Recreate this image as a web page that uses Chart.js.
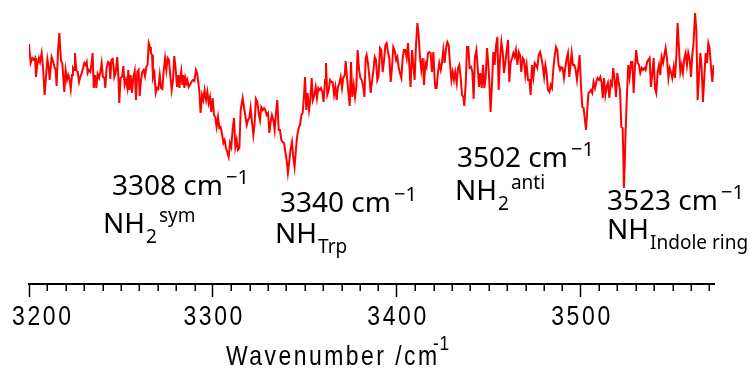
<!DOCTYPE html>
<html><head><meta charset="utf-8">
<script src="https://cdn.jsdelivr.net/npm/chart.js@4/dist/chart.umd.min.js"></script>
<style>html,body{margin:0;padding:0;background:#fff}#wrap{width:751px;height:369px}</style>
</head><body><div id="wrap"><canvas id="c" width="751" height="369"></canvas></div>
<script>
// Wavenumber (cm^-1)
const wavenumber = [
3200.0,3200.9,3201.8,3202.7,3203.3,3203.8,3204.5,3205.4,3206.0,3206.9,3207.6,3208.5,3209.4,3210.0,3210.7,3211.2,3212.3,3213.2,3214.0,3214.5,
3215.0,3215.8,3216.5,3217.4,3218.1,3219.2,3219.9,3220.7,3221.4,3222.1,3222.7,3223.4,3223.9,3224.5,3225.0,3225.7,3226.5,3227.2,3227.9,3228.7,
3229.4,3230.1,3230.8,3231.4,3231.9,3232.6,3233.4,3234.1,3234.6,3235.2,3235.9,3236.6,3237.3,3238.1,3238.8,3239.5,3240.2,3241.0,3241.5,3242.2,
3243.0,3243.7,3244.2,3244.8,3245.5,3246.0,3246.4,3247.1,3248.0,3248.6,3249.1,3249.8,3250.6,3251.3,3252.0,3252.7,3253.5,3254.0,3254.6,3255.3,
3256.0,3256.7,3257.5,3258.2,3258.9,3259.6,3260.2,3260.9,3261.6,3262.4,3263.1,3263.8,3264.5,3265.1,3265.8,3266.3,3266.9,3267.4,3268.2,3268.9,
3269.6,3270.3,3271.1,3271.8,3272.5,3273.2,3274.0,
3274.7,3275.4,3276.1,3276.9,3277.6,3278.3,3279.0,3279.8,3280.5,3281.2,3281.8,3282.3,3282.8,3283.4,3283.9,3284.5,3285.0,3285.6,3286.1,3286.8,
3287.5,3288.3,3289.0,3289.9,3290.8,3291.4,3292.1,3292.6,3293.3,3294.1,3294.8,3295.5,3296.3,3297.0,3297.7,3298.4,3299.1,3299.9,3300.6,3301.3,
3302.0,3302.8,3303.5,3304.2,3304.9,3305.7,3306.4,3307.1,3307.8,3308.6,3309.3,3310.0,3310.8,3311.5,3312.2,3312.9,3313.6,3314.4,3315.1,3316.2,
3316.9,3317.6,3318.4,3319.1,3319.8,3320.5,3321.3,3322.0,3322.7,3323.4,3324.2,3324.9,3325.6,3326.3,3327.1,3327.8,3328.5,3329.2,3330.0,3330.7,
3331.4,3332.1,3332.9,3333.6,3334.3,3335.0,3335.8,3336.5,3337.2,3337.9,3338.7,3339.4,3340.1,3340.8,3341.5,3342.2,3343.0,3343.7,3344.4,
3345.6,3346.1,3346.8,3347.4,3348.1,3348.8,3349.5,3350.1,3350.8,3351.5,3352.3,3353.0,3353.7,3354.4,3355.2,3355.9,3356.6,3357.3,3358.1,3358.8,
3359.5,3360.2,3361.0,3361.5,3362.2,3363.0,3363.7,3364.4,3365.1,3365.9,3366.6,3367.3,3368.0,3368.8,3369.5,3370.2,3370.9,3371.7,3372.2,3372.9,
3373.7,3374.4,3375.1,3375.8,3376.6,3377.3,3378.0,3378.7,3379.5,3380.2,3380.9,3381.6,3382.4,3383.1,3383.6,3384.3,3385.1,3385.8,3386.5,3387.2,
3388.0,3388.7,3389.4,3390.1,3390.9,3391.6,3392.3,3393.0,3393.8,3394.5,3395.2,3395.9,3396.7,3397.4,3398.1,3398.8,3399.6,3400.3,3401.0,3401.7,
3402.5,3403.2,3403.9,3404.6,3405.4,3406.1,3406.8,3407.5,3408.3,3409.0,3409.7,3410.4,3411.2,3411.9,3412.6,3413.3,3414.1,3414.8,3415.5,3416.2,
3417.0,3417.7,3418.4,3419.1,3419.9,3420.6,
3421.0,3421.7,3422.4,3423.1,3423.9,3424.6,3425.3,3426.0,3426.8,3427.5,3428.2,3428.9,3429.7,3430.4,3431.1,3431.8,3432.6,3433.3,3434.0,3434.7,
3435.5,3436.2,3436.7,3437.5,3438.2,3438.9,3439.6,3440.4,3441.1,3441.8,3442.5,3443.3,3444.0,3444.7,3445.4,3446.2,3446.9,3447.6,3448.3,3449.1,
3449.8,3450.5,3451.0,3451.8,3452.5,3453.2,3454.0,3454.7,3455.4,3456.1,3456.9,3457.6,3458.3,3459.0,3459.8,3460.5,3461.2,3461.9,3462.7,3463.4,
3464.1,3464.8,3465.6,3466.3,3467.0,3467.7,3468.5,3469.2,3469.9,3470.6,3471.4,3472.1,3472.8,3473.5,3474.3,3475.0,3475.7,3476.4,3477.2,3477.9,
3478.6,3479.3,3480.1,3480.8,3481.5,3482.2,3483.0,3483.7,3484.4,3485.1,3485.8,3486.6,3487.3,3488.0,3488.8,3489.5,3490.2,3490.9,3491.7,3492.4,
3493.1,3493.8,
3495.1,3495.8,3496.5,3497.3,3498.0,3498.7,3499.4,3500.2,3500.9,3501.6,3502.3,3502.9,3503.6,3504.2,3504.9,3505.6,3506.3,3507.0,3507.8,3508.5,
3509.2,3510.0,3510.7,3511.4,3512.0,3512.7,3513.4,3514.1,3514.8,3515.6,3516.3,3517.0,3517.7,3518.5,3519.2,3519.9,3520.6,3521.4,3522.1,3522.8,
3523.2,3523.5,3523.9,3524.4,3525.2,3525.9,3526.6,3527.4,3528.1,3528.8,3529.5,3530.2,3531.0,3531.7,3532.4,3533.2,3533.9,3534.6,3535.3,3536.1,
3536.8,3537.5,3538.2,3539.0,3539.7,3540.4,3541.1,3541.9,3542.6,3543.3,3544.0,3544.8,3545.5,3546.2,3546.9,3547.7,3548.4,3549.1,3549.8,3550.6,
3551.3,3552.0,3552.7,3553.5,3554.2,3554.9,3555.6,3556.4,3557.1,3557.8,3558.5,3559.3,3560.0,3560.7,3561.4,3562.2,3562.9,3563.6,3564.3,3565.1,
3565.8,3566.5,3567.2,3568.0,3568.7,3569.4,3570.1,3570.9,3571.6,3572.3
];
// Signal (arbitrary units)
const intensity = [
240,221,226,224,226,207,219,226,222,231,217,189,211,225,217,204,227,222,216,214,
198,234,251,223,221,192,214,204,209,204,195,209,216,214,231,214,212,202,207,211,
216,221,219,222,211,214,212,222,231,196,209,196,210,206,212,221,207,206,196,216,
222,221,205,224,225,217,207,211,227,207,181,206,207,218,199,204,196,214,194,209,
191,206,213,184,212,214,188,204,212,214,208,217,219,241,237,231,229,206,211,191,
196,195,209,196,195,212,226,
214,226,224,207,194,204,228,214,197,209,196,207,213,199,209,196,206,201,204,197,
199,202,204,203,214,211,201,194,171,189,184,194,184,192,181,187,172,186,169,167,
157,167,156,157,151,141,144,136,132,127,141,137,156,166,137,144,134,136,174,186,
177,169,159,164,166,176,161,149,161,185,182,171,164,177,174,176,174,169,171,151,
162,169,164,154,171,184,154,154,144,142,141,132,124,111,122,134,142,127,117,
144,151,157,159,169,171,187,207,174,191,174,184,206,184,189,197,186,196,194,196,
192,182,204,221,189,194,204,202,202,189,197,184,197,201,207,196,206,209,223,207,
191,178,222,187,199,187,197,234,214,206,204,199,187,226,229,221,207,191,202,212,
227,224,204,208,236,234,212,222,239,241,232,226,202,217,237,234,224,227,217,211,
206,226,234,234,226,241,219,197,234,219,204,237,261,249,227,214,226,199,221,217,
231,232,231,212,232,204,
196,196,212,221,214,222,234,221,236,242,239,221,204,212,204,212,201,216,219,207,
189,187,178,201,237,237,216,217,212,185,227,234,216,197,211,196,219,196,206,236,
219,196,172,201,232,219,239,247,194,224,242,232,211,221,234,244,202,221,226,231,
227,234,219,232,229,212,226,224,209,219,204,204,189,219,207,221,219,216,229,232,
227,219,207,219,211,194,192,199,196,214,227,237,234,219,214,217,216,206,217,226,
231,207,
231,219,219,214,204,216,229,197,177,176,164,154,174,191,192,194,191,202,196,202,
206,204,207,201,186,206,189,197,201,186,202,199,216,204,187,211,202,194,157,156,
127,96,117,151,191,219,207,222,222,191,217,234,221,219,211,216,214,216,214,222,
224,226,197,211,226,196,191,212,219,209,227,221,229,236,226,206,216,212,206,217,
206,227,261,234,212,219,211,226,231,219,231,224,207,229,241,271,254,184,207,231,
216,182,206,231,221,241,236,216,202,219
];
const majorTicks = [3200, 3300, 3400, 3500];
const peakPositions = ['3308', '3340', '3502', '3523'];
const peakUnit = 'cm';
const peakUnitExp = '\u22121';
const peakModeBase = ['NH', 'NH', 'NH', 'NH'];
const peakModeSub = ['2', 'Trp', '2', 'Indole ring'];
const peakModeSup = ['sym', '', 'anti', ''];
const axisTitle = 'Wavenumber /cm';
const axisTitleExp = '-1';

const ARIAL = '"Liberation Sans",Arial,sans-serif';
const SANS = '"Noto Sans","DejaVu Sans",sans-serif';
const SX = 0.82; // horizontal condensing of axis text

// label anchor points (left, baseline) in canvas pixels
const labelLayout = [
  {nx:112, ny:195, mx:103, my:233},
  {nx:280, ny:212, mx:275, my:243},
  {nx:457, ny:167, mx:455, my:200},
  {nx:607, ny:210, mx:607, my:239}
];

function narrowWidth(ctx, text, size, spacing) {
  ctx.font = size + 'px ' + ARIAL;
  ctx.letterSpacing = spacing + 'px';
  return (ctx.measureText(text).width - spacing) * SX;
}
function narrowText(ctx, text, left, y, size, spacing) {
  ctx.save();
  ctx.font = size + 'px ' + ARIAL;
  ctx.letterSpacing = spacing + 'px';
  ctx.textAlign = 'left';
  ctx.translate(left, y);
  ctx.scale(SX, 1);
  ctx.fillText(text, 0, 0);
  ctx.restore();
}

const decorPlugin = {
  id: 'decor',
  afterDraw(chart) {
    const ctx = chart.ctx;
    const xs = chart.scales.x;
    const axisY = chart.chartArea.bottom;
    ctx.save();
    ctx.strokeStyle = '#000';
    ctx.lineWidth = 1.5;
    for (let v = Math.ceil(xs.min / 10) * 10; v <= xs.max; v += 10) {
      if (v % 100 === 0) continue;
      const px = Math.round(xs.getPixelForValue(v)) + 0.25;
      ctx.beginPath();
      ctx.moveTo(px, axisY);
      ctx.lineTo(px, axisY + 7);
      ctx.stroke();
    }
    ctx.fillStyle = '#000';
    ctx.textBaseline = 'alphabetic';
    // tick labels
    majorTicks.forEach(t => {
      const label = String(t);
      const w = narrowWidth(ctx, label, 28, 3.2);
      let cx = xs.getPixelForValue(t);
      cx = Math.max(cx, 12 + w / 2);
      narrowText(ctx, label, cx - w / 2, 325, 28, 3.2);
    });
    // axis title
    const tw = narrowWidth(ctx, axisTitle, 28, 3);
    narrowText(ctx, axisTitle, 226, 365, 28, 3);
    narrowText(ctx, axisTitleExp, 226 + tw - 4, 350, 21, 1);
    // peak annotations
    ctx.letterSpacing = '0px';
    ctx.textAlign = 'left';
    peakPositions.forEach((p, i) => {
      const L = labelLayout[i];
      ctx.font = '28px ' + SANS;
      const s = p + ' ' + peakUnit;
      ctx.fillText(s, L.nx, L.ny);
      const w1 = ctx.measureText(s).width;
      ctx.font = '20px ' + SANS;
      ctx.fillText(peakUnitExp, L.nx + w1 + 3, L.ny - 11);
      ctx.font = '28px ' + SANS;
      ctx.fillText(peakModeBase[i], L.mx, L.my);
      const w2 = ctx.measureText(peakModeBase[i]).width;
      ctx.font = '19px ' + SANS;
      ctx.fillText(peakModeSub[i], L.mx + w2 + 1, L.my + 10);
      if (peakModeSup[i]) {
        const w3 = ctx.measureText(peakModeSub[i]).width;
        ctx.fillText(peakModeSup[i], L.mx + w2 + w3 + 3, L.my - 11);
      }
    });
    ctx.restore();
  }
};

new Chart(document.getElementById('c'), {
  type: 'line',
  data: {
    datasets: [{
      data: wavenumber.map((x, i) => ({x: x, y: intensity[i]})),
      borderColor: '#ff0000',
      borderWidth: 2,
      pointRadius: 0,
      tension: 0,
      fill: false
    }]
  },
  options: {
    responsive: false,
    animation: false,
    layout: {padding: {left: 29, right: 37, top: 0, bottom: 0}},
    plugins: {legend: {display: false}, tooltip: {enabled: false}},
    scales: {
      x: {
        type: 'linear', min: 3200, max: 3572.5,
        ticks: {display: false, stepSize: 100, includeBounds: false},
        grid: {drawOnChartArea: false, drawTicks: true, tickLength: 13, tickWidth: 1.5, tickColor: '#000'},
        border: {display: true, color: '#000', width: 2},
        afterFit(s) { s.height = 85; }
      },
      y: {display: false, min: 0, max: 284}
    }
  },
  plugins: [decorPlugin]
});
</script>
</body></html>
